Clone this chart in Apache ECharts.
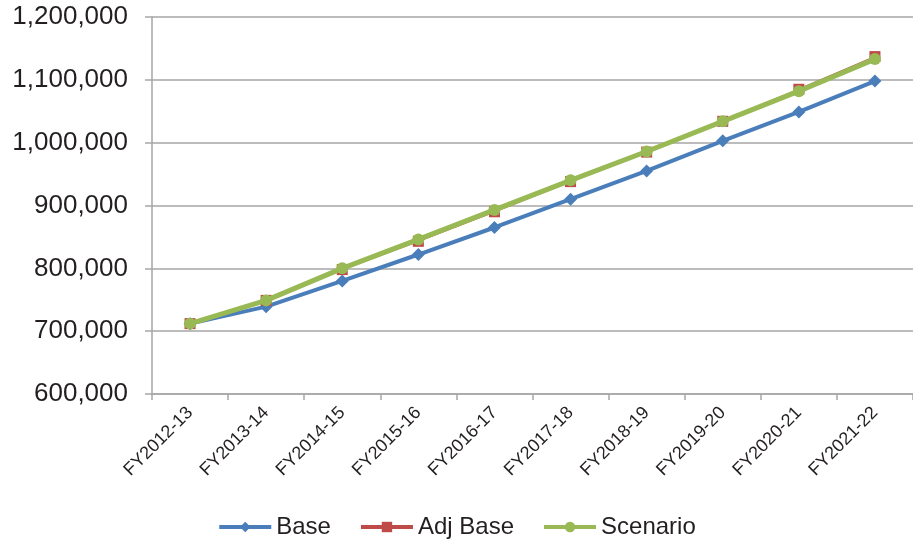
<!DOCTYPE html>
<html>
<head>
<meta charset="utf-8">
<script src="https://cdn.jsdelivr.net/npm/echarts@6/dist/echarts.min.js"></script>
<style>
html,body{margin:0;padding:0;background:#fff;}
#chart{width:913px;height:539px;}
</style>
</head>
<body>
<div id="chart"></div>
<script>
var categories = ['FY2012-13','FY2013-14','FY2014-15','FY2015-16','FY2016-17','FY2017-18','FY2018-19','FY2019-20','FY2020-21','FY2021-22'];
var baseValues = [712000, 739000, 780000, 822000, 865000, 910000, 955000, 1003000, 1049000, 1098000];
var adjBaseValues = [712000, 749000, 798000, 843000, 890000, 938000, 985000, 1034000, 1085000, 1137000];
var scenarioValues = [712000, 749000, 800000, 846000, 893000, 940000, 986000, 1034000, 1082000, 1133000];
var yTicks = [600000, 700000, 800000, 900000, 1000000, 1100000, 1200000];

var chart = echarts.init(document.getElementById('chart'));
var fontFam = '"Liberation Sans", Arial, sans-serif';
var gray = '#A6A6A6';
chart.setOption({
  animation: false,
  textStyle: {fontFamily: fontFam},
  grid: {left: 152, top: 17, width: 770, height: 377, containLabel: false},
  legend: {
    top: 510, left: 'center',
    itemWidth: 52, itemHeight: 13, itemGap: 28,
    textStyle: {fontSize: 24, color: '#231F20', fontFamily: fontFam},
    data: [
      {name: 'Base', lineStyle: {width: 4}},
      {name: 'Adj Base', lineStyle: {width: 4}},
      {name: 'Scenario', lineStyle: {width: 4}}
    ]
  },
  xAxis: {
    type: 'category',
    data: categories,
    boundaryGap: true,
    axisLine: {lineStyle: {color: gray, width: 1.5}},
    axisTick: {show: true, length: 6, lineStyle: {color: gray, width: 1.5}},
    axisLabel: {rotate: 45, fontSize: 18, color: '#231F20', margin: 16, fontFamily: fontFam}
  },
  yAxis: {
    type: 'value',
    min: yTicks[0], max: yTicks[yTicks.length - 1], interval: 100000,
    axisLine: {show: true, lineStyle: {color: gray, width: 1.5}},
    axisTick: {show: true, length: 7, lineStyle: {color: gray, width: 1.5}},
    splitLine: {show: true, lineStyle: {color: gray, width: 1.5}},
    axisLabel: {
      fontSize: 26, color: '#231F20', margin: 24, fontFamily: fontFam,
      formatter: function (v) { return v.toLocaleString('en-US'); }
    }
  },
  series: [
    {
      name: 'Base', type: 'line', data: baseValues,
      symbol: 'diamond', symbolSize: 13, showAllSymbol: true,
      lineStyle: {color: '#4A7EBB', width: 4},
      itemStyle: {color: '#4A7EBB', borderWidth: 0},
      z: 2
    },
    {
      name: 'Adj Base', type: 'line', data: adjBaseValues,
      symbol: 'rect', symbolSize: 11, showAllSymbol: true,
      lineStyle: {color: '#BE4B48', width: 1.5},
      itemStyle: {color: '#BE4B48', borderWidth: 0},
      z: 3
    },
    {
      name: 'Scenario', type: 'line', data: scenarioValues,
      symbol: 'circle', symbolSize: 12, showAllSymbol: true,
      lineStyle: {color: '#98B954', width: 5},
      itemStyle: {color: '#98B954', borderWidth: 0},
      z: 4
    }
  ]
});
</script>
</body>
</html>
